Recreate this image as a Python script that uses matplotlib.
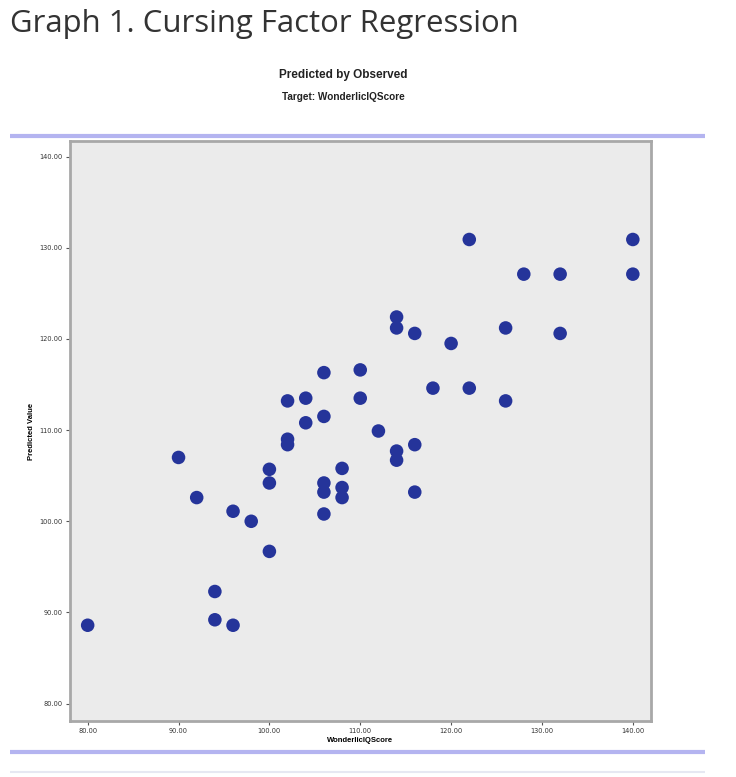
import matplotlib
matplotlib.use("Agg")
import matplotlib.pyplot as plt
from matplotlib.lines import Line2D

# observed score (x) vs predicted value (y)
observed = [80, 90, 92, 94, 94, 96, 96, 98, 100, 100, 100,
            102, 102, 102, 104, 104, 106, 106, 106, 106, 106,
            108, 108, 108, 110, 110, 112, 114, 114, 114, 114,
            116, 116, 116, 118, 120, 122, 122, 126, 126, 128,
            132, 132, 140, 140]
predicted = [88.6, 107.0, 102.6, 92.3, 89.2, 88.6, 101.1, 100.0, 105.7, 104.2, 96.7,
             113.2, 109.0, 108.4, 113.5, 110.8, 116.3, 111.5, 104.2, 103.2, 100.8,
             105.8, 103.7, 102.6, 116.6, 113.5, 109.9, 122.4, 121.2, 107.7, 106.7,
             120.6, 108.4, 103.2, 114.6, 119.5, 130.9, 114.6, 121.2, 113.2, 127.1,
             127.1, 120.6, 130.9, 127.1]
ticks = [80, 90, 100, 110, 120, 130, 140]
tick_labels = ['%.2f' % t for t in ticks]

fig = plt.figure(figsize=(7.36, 7.77), dpi=100)
W, H = 736.0, 777.0

# page title
fig.text(10 / W, 1 - 24 / H, 'Graph 1. Cursing Factor Regression',
         fontsize=22.4, family='Open Sans', color='#333333', va='center', ha='left')

# chart headers
fig.text(343 / W, 1 - 75 / H, 'Predicted by Observed', fontsize=8.5,
         family='Liberation Sans', weight='bold', ha='center', va='center', color='#222222')
fig.text(343 / W, 1 - 97 / H, 'Target: WonderlicIQScore', fontsize=7.2,
         family='Liberation Sans', weight='bold', ha='center', va='center', color='#222222')

# decorative horizontal rules
for yy, col, lw in [(136, '#b4b4f0', 3), (752, '#b4b4f0', 3), (772, '#e6e8f2', 1.5)]:
    fig.add_artist(Line2D([10 / W, 705 / W], [1 - yy / H, 1 - yy / H], color=col, lw=lw,
                          solid_capstyle='butt', transform=fig.transFigure))

ax = fig.add_axes([69.5 / W, 1 - 721 / H, (651 - 69.5) / W, (721 - 141) / H])
ax.set_facecolor('#ebebeb')
ax.scatter(observed, predicted, s=95, color='#25349a', edgecolors='none', zorder=3)

ax.set_xlim(78.0, 142.0)
ax.set_ylim(78.1, 141.7)
ax.set_xticks(ticks)
ax.set_xticklabels(tick_labels)
ax.set_yticks(ticks)
ax.set_yticklabels(tick_labels)
ax.tick_params(labelsize=4.8, length=3, width=0.8, color='#555555', labelcolor='#333333', pad=2)
for sp in ax.spines.values():
    sp.set_color('#a8a8a8')
    sp.set_linewidth(2)

ax.set_xlabel('WonderlicIQScore', fontsize=5.5, family='Liberation Sans', weight='bold', labelpad=2)
ax.set_ylabel('Predicted Value', fontsize=5.5, family='Liberation Sans', weight='bold', labelpad=3)

fig.savefig('out.png', dpi=100)
